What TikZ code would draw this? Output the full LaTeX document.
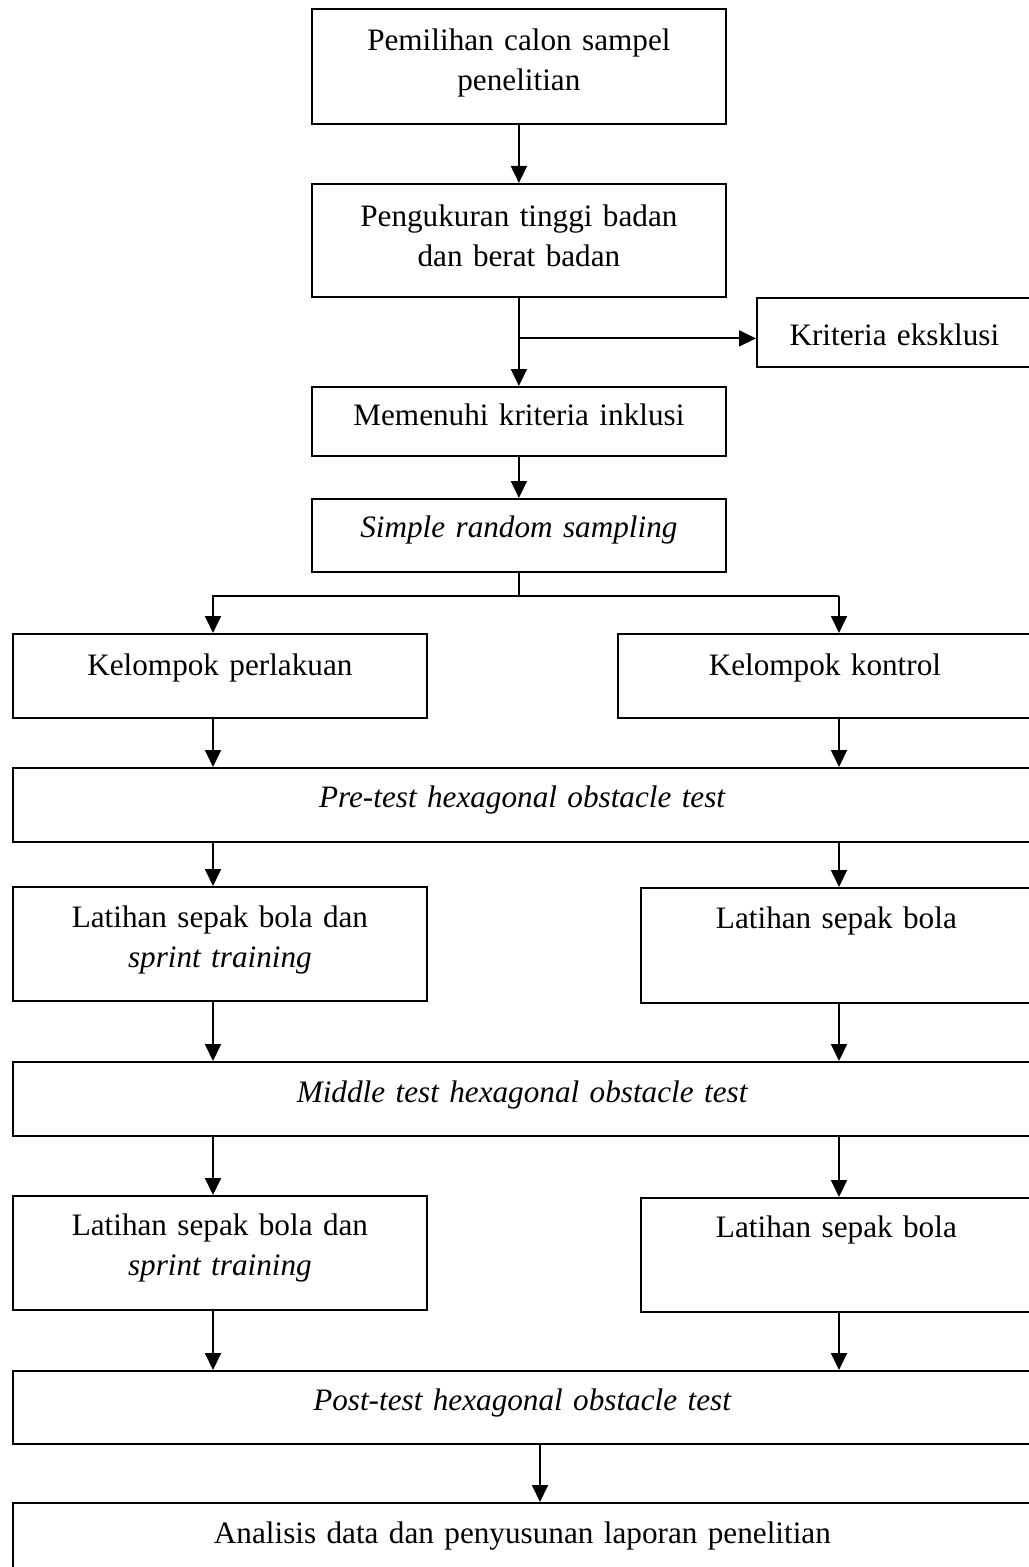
\documentclass[tikz,border=0pt]{standalone}
\usepackage{fontspec}
\setmainfont{Liberation Serif}
\usetikzlibrary{arrows.meta}

\begin{document}
\begin{tikzpicture}[x=0.5pt,y=-0.5pt,line width=0.9pt,
    font=\fontsize{15.6}{20}\selectfont,
    kotak/.style={draw, inner sep=0pt, anchor=north west, align=center},
    panah/.style={-{Triangle[length=8.5pt,width=8pt]}}]

    \useasboundingbox (0,0) rectangle (1028,1567);

    % kolom tengah
    \node[kotak, text width=207pt, text height=21pt, text depth=36.5pt] (pilih) at (311,8)
        {Pemilihan calon sampel\\penelitian};
    \node[kotak, text width=207pt, text height=21.5pt, text depth=35pt] (ukur) at (311,183)
        {Pengukuran tinggi badan\\dan berat badan};
    \node[kotak, text width=137.5pt, text height=24pt, text depth=10.5pt] (eksklusi) at (756,297)
        {Kriteria eksklusi};
    \node[kotak, text width=207pt, text height=19.5pt, text depth=15pt] (inklusi) at (311,386)
        {Memenuhi kriteria inklusi};
    \node[kotak, text width=207pt, text height=19.5pt, text depth=17pt] (sampling) at (311,498)
        {\textit{Simple random sampling}};

    % dua kelompok
    \node[kotak, text width=207pt, text height=21pt, text depth=21pt] (perlakuan) at (12,633)
        {Kelompok perlakuan};
    \node[kotak, text width=207pt, text height=21pt, text depth=21pt] (kontrol) at (617,633)
        {Kelompok kontrol};

    \node[kotak, text width=509.5pt, text height=20pt, text depth=17pt] (pretest) at (12,767)
        {\textit{Pre-test hexagonal obstacle test}};

    \node[kotak, text width=207pt, text height=20.5pt, text depth=36.5pt] (latihA) at (12,886)
        {Latihan sepak bola dan\\\textit{sprint training}};
    \node[kotak, text width=195.5pt, text height=20.5pt, text depth=37pt] (latihB) at (640,887)
        {Latihan sepak bola};

    \node[kotak, text width=509.5pt, text height=20.5pt, text depth=16.5pt] (middle) at (12,1061)
        {\textit{Middle test hexagonal obstacle test}};

    \node[kotak, text width=207pt, text height=20pt, text depth=37pt] (latihC) at (12,1195)
        {Latihan sepak bola dan\\\textit{sprint training}};
    \node[kotak, text width=195.5pt, text height=20pt, text depth=37pt] (latihD) at (640,1197)
        {Latihan sepak bola};

    \node[kotak, text width=509.5pt, text height=20pt, text depth=16.5pt] (posttest) at (12,1370)
        {\textit{Post-test hexagonal obstacle test}};

    \node[kotak, text width=509.5pt, text height=20.5pt, text depth=29.5pt] (analisis) at (12,1502)
        {Analisis data dan penyusunan laporan penelitian};

    \coordinate (kiri) at (213,596);
    \coordinate (kanan) at (839,596);
    \coordinate (bawah) at (540,1443);

    \draw[panah] (pilih.south) -- (ukur.north);
    \draw[panah] (ukur.south) -- (inklusi.north);
    \draw[panah] (ukur.south |- eksklusi.west) ++(0,6) -- ([yshift=-3pt]eksklusi.west);
    \draw[panah] (inklusi.south) -- (sampling.north);

    \draw (sampling.south) -- (sampling.south |- kiri);
    \draw[panah] (kanan) -- (kiri) -- (kiri |- perlakuan.north);
    \draw[panah] (kanan) -- (kanan |- kontrol.north);

    \foreach \a/\b in {perlakuan/pretest, pretest/latihA, latihA/middle, middle/latihC, latihC/posttest}
        \draw[panah] (\a.south -| kiri) -- (\b.north -| kiri);
    \foreach \a/\b in {kontrol/pretest, pretest/latihB, latihB/middle, middle/latihD, latihD/posttest}
        \draw[panah] (\a.south -| kanan) -- (\b.north -| kanan);

    \draw[panah] (posttest.south -| bawah) -- (analisis.north -| bawah);

\end{tikzpicture}
\end{document}
